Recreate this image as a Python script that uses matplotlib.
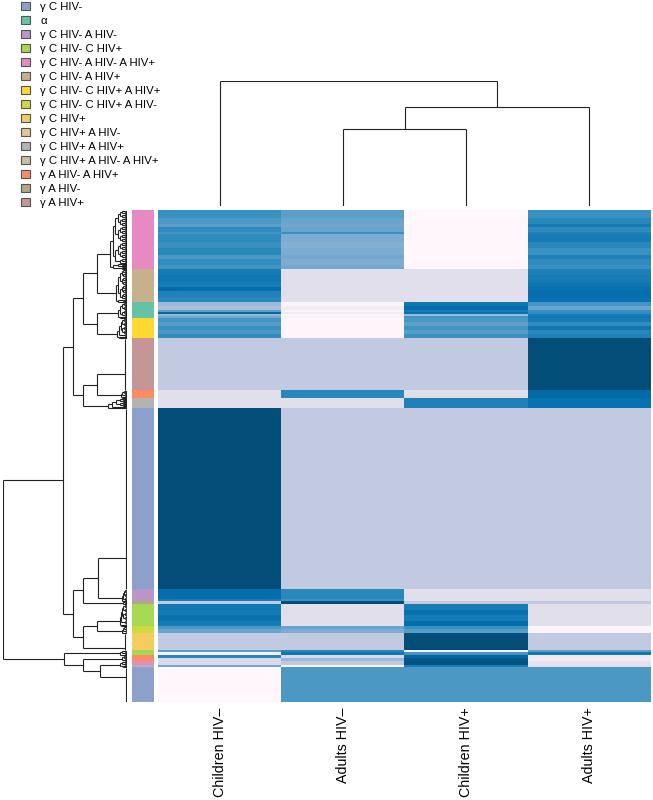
import numpy as np
import matplotlib
matplotlib.use("Agg")
import matplotlib.pyplot as plt
from matplotlib.collections import LineCollection
from matplotlib.patches import Patch

plt.rcParams['font.family'] = ['Liberation Sans', 'DejaVu Sans']

# ── column labels (left → right, in dendrogram order) ──────────────────────
columns = ["Children HIV\u2013", "Adults HIV\u2013", "Children HIV+", "Adults HIV+"]

# ── legend groups and their colours ────────────────────────────────────────
group_names = [
    "γ C HIV-", "α", "γ C HIV- A HIV-", "γ C HIV- C HIV+",
    "γ C HIV- A HIV- A HIV+", "γ C HIV- A HIV+", "γ C HIV- C HIV+ A HIV+",
    "γ C HIV- C HIV+ A HIV-", "γ C HIV+", "γ C HIV+ A HIV-",
    "γ C HIV+ A HIV+", "γ C HIV+ A HIV- A HIV+", "γ A HIV- A HIV+",
    "γ A HIV-", "γ A HIV+",
]
group_colors = [
    "#8DA0CB", "#66C2A5", "#BA95C7", "#A6D854",
    "#E78AC3", "#C6B18C", "#FFD92F",
    "#D2D841", "#F2CE61", "#E5C494",
    "#B3B3B3", "#CCBBA3", "#FC8D62",
    "#B1A884", "#C49696",
]

# ── heatmap rows, top → bottom ─────────────────────────────────────────────
# each stripe: (n_rows, Children HIV-, Adults HIV-, Children HIV+, Adults HIV+)
pink_rows = [(8, .62, .55, 0, .62), (6, .58, .52, 0, .66), (3, .55, .50, 0, .70),
             (5, .64, .52, 0, .64), (2, .60, .62, 0, .68), (8, .64, .48, 0, .70),
             (6, .62, .46, 0, .66), (7, .66, .48, 0, .62), (4, .58, .50, 0, .68),
             (6, .63, .47, 0, .64), (4, .60, .50, 0, .62)]
tan_rows = [(6, .70, .17, .17, .68), (7, .72, .17, .17, .70), (5, .70, .17, .17, .72),
            (4, .76, .17, .17, .74), (6, .68, .17, .17, .76), (5, .66, .17, .17, .74)]
teal_rows = [(4, .40, .03, .72, .60), (4, .36, .08, .76, .52), (2, .55, .02, .70, .62),
             (2, .78, .10, .74, .64), (2, .42, .02, .40, .70), (2, .50, .04, .60, .72)]
yellow_rows = [(4, .60, .01, .58, .70), (4, .56, .01, .54, .64), (4, .62, .01, .60, .72),
               (4, .58, .01, .56, .66), (4, .64, .01, .62, .68)]
rosy_rows = [(52, .29, .29, .29, .92)]
orange_rows = [(8, .17, .66, .17, .78)]
gray_rows = [(10, .17, .17, .68, .74)]
blue_rows = [(181, .92, .29, .29, .29)]
purple_rows = [(10, .76, .66, .17, .17), (2, .70, .62, .17, .17)]
khaki_rows = [(3, .29, .92, .29, .29)]
green_rows = [(6, .72, .17, .70, .17), (5, .70, .17, .74, .17), (6, .74, .17, .70, .17),
              (5, .70, .17, .76, .17)]
ygreen_rows = [(3, .58, .52, .62, .02), (4, .52, .48, .56, .02)]
lorange_rows = [(17, .29, .29, .92, .29)]
green2_rows = [(2, .55, .66, .02, .55), (3, .05, .72, .60, .72)]
orange2_rows = [(3, .66, .20, .80, .10), (3, .20, .40, .88, .10)]
pink2_rows = [(4, .20, .30, .90, .15)]
gray2_rows = [(2, .50, .02, .70, .17)]
botblue_rows = [(35, 0, .58, .58, .58)]

# band key -> (legend group, stripes, spread of its own sub-tree, anchor within band)
bands = {
    "pink": ("γ C HIV- A HIV- A HIV+", pink_rows, 0.14, 0.71),
    "tan": ("γ C HIV- A HIV+", tan_rows, 0.09, 0.72),
    "teal": ("α", teal_rows, 0.07, 0.75),
    "yellow": ("γ C HIV- C HIV+ A HIV+", yellow_rows, 0.08, 0.69),
    "rosy": ("γ A HIV+", rosy_rows, 0.015, 0.69),
    "orange": ("γ A HIV- A HIV+", orange_rows, 0.05, 0.6),
    "gray": ("γ C HIV+ A HIV+", gray_rows, 0.15, 0.75),
    "blue": ("γ C HIV-", blue_rows, 0.012, 0.83),
    "purple": ("γ C HIV- A HIV-", purple_rows, 0.04, 0.75),
    "khaki": ("γ A HIV-", khaki_rows, 0.03, 0.5),
    "green": ("γ C HIV- C HIV+", green_rows, 0.06, 0.73),
    "ygreen": ("γ C HIV- C HIV+ A HIV-", ygreen_rows, 0.04, 0.7),
    "lorange": ("γ C HIV+", lorange_rows, 0.02, 0.9),
    "green2": ("γ C HIV- C HIV+", green2_rows, 0.06, 0.5),
    "orange2": ("γ A HIV- A HIV+", orange2_rows, 0.04, 0.5),
    "pink2": ("γ C HIV- A HIV- A HIV+", pink2_rows, 0.04, 0.5),
    "gray2": ("γ C HIV+ A HIV+", gray2_rows, 0.03, 0.5),
    "botblue": ("γ C HIV-", botblue_rows, 0.01, 0.28),
}
band_order = ["pink", "tan", "teal", "yellow", "rosy", "orange", "gray", "blue",
              "purple", "khaki", "green", "ygreen", "lorange", "green2", "orange2",
              "pink2", "gray2", "botblue"]

# row dendrogram: (merge height, upper, lower); leaves are band keys
row_tree = (1.0,
            (0.514,
             (0.438,
              (0.357, (0.244, "pink", "tan"), (0.244, "teal", "yellow")),
              (0.352, (0.244, "rosy", "orange"), "gray")),
             (0.438,
              (0.357, (0.23, "blue", "purple"), "khaki"),
              (0.357, (0.244, "green", "ygreen"), "lorange"))),
            (0.506,
             "green2",
             (0.352, "orange2", (0.218, (0.06, "pink2", "gray2"), "botblue"))))

# column dendrogram (leaves are column indices)
col_tree = (1.0, 0, (0.788, (0.612, 1, 2), 3))

# ── build matrices ─────────────────────────────────────────────────────────
values, row_cols, band_span = [], [], {}
for key in band_order:
    group, stripes = bands[key][:2]
    start = len(values)
    for n, *v in stripes:
        values.extend([v] * n)
    band_span[key] = (start, len(values))
    row_cols.extend([matplotlib.colors.to_rgb(group_colors[group_names.index(group)])]
                    * (len(values) - start))
values = np.array(values, dtype=float)
row_cols = np.array(row_cols)[:, None, :]
n_rows = len(values)


def join(a, b, h, segs):
    (p1, h1), (p2, h2) = a, b
    segs += [[(h1, p1), (h, p1)], [(h, p1), (h, p2)], [(h2, p2), (h, p2)]]
    return (p1 + p2) / 2, h


def balanced(pos, top, segs):
    nodes = [(p, 0.0) for p in pos]
    levels = int(np.ceil(np.log2(max(len(nodes), 2))))
    lvl = 0
    while len(nodes) > 1:
        lvl += 1
        merged = [join(nodes[j], nodes[j + 1], top * lvl / levels, segs)
                  for j in range(0, len(nodes) - 1, 2)]
        if len(nodes) % 2:
            merged.append(nodes[-1])
        nodes = merged
    return nodes[0]


def band_leaf(key, segs):
    lo, hi = band_span[key]
    spread, anchor = bands[key][2:]
    pos = [i + 0.5 for i in range(lo, hi)]
    if spread < 0.025:
        # near-identical rows: a single thin line at the leaves
        segs.append([(spread, lo + 0.5), (spread, hi - 0.5)])
        return lo + anchor * (hi - lo), spread
    if len(pos) < 4 or abs(anchor - 0.5) < 0.05:
        return balanced(pos, spread, segs)
    k = int(round(np.clip((4 * anchor - 1) / 2, 0.1, 0.9) * len(pos)))
    return join(balanced(pos[:k], spread * 0.8, segs),
                balanced(pos[k:], spread * 0.8, segs), spread, segs)


def walk(node, leaf, segs):
    if not isinstance(node, tuple):
        return leaf(node, segs)
    h, upper, lower = node
    return join(walk(upper, leaf, segs), walk(lower, leaf, segs), h, segs)


W, H = 653, 800
fig = plt.figure(figsize=(W / 100, H / 100), dpi=100)


def px_axes(x0, y0, x1, y1):
    return fig.add_axes([x0 / W, 1 - y1 / H, (x1 - x0) / W, (y1 - y0) / H])


top, bottom = 210, 702
ax_hm = px_axes(158, top, 651, bottom)
ax_rc = px_axes(132, top, 154, bottom)
ax_rd = px_axes(3, top, 127, bottom)
ax_cd = px_axes(158, 80.7, 651, 206)

ax_hm.imshow(values, cmap="PuBu", vmin=0, vmax=1, aspect="auto",
             interpolation="nearest", extent=(0, 4, n_rows, 0))
ax_hm.set_xticks(np.arange(4) + 0.5)
ax_hm.set_xticklabels(columns, rotation=90, fontsize=10.3, va="top")
ax_hm.tick_params(axis="x", length=0, pad=4)
ax_hm.set_yticks([])
for s in ax_hm.spines.values():
    s.set_visible(False)

ax_rc.imshow(row_cols, aspect="auto", interpolation="nearest", extent=(0, 1, n_rows, 0))
ax_rc.axis("off")

# row dendrogram
segs = []
walk(row_tree, band_leaf, segs)
ax_rd.add_collection(LineCollection(segs, colors="#222222", linewidths=0.8))
ax_rd.set_xlim(1.0, 0)
ax_rd.set_ylim(n_rows, 0)
ax_rd.axis("off")

# column dendrogram
csegs = []
walk(col_tree, lambda c, s: (c + 0.5, 0.0), csegs)
csegs = [[(p, h) for h, p in seg] for seg in csegs]
ax_cd.add_collection(LineCollection(csegs, colors="#222222", linewidths=0.8))
ax_cd.set_xlim(0, 4)
ax_cd.set_ylim(0, 1.0)
ax_cd.axis("off")

handles = [Patch(facecolor=c, edgecolor="#555555", linewidth=0.8) for c in group_colors]
fig.legend(handles, group_names, loc="upper left", bbox_to_anchor=(21 / W, 1 - 1.5 / H),
           frameon=False, fontsize=8.2, handlelength=0.8, handleheight=0.75,
           handletextpad=0.9, labelspacing=0.34, borderpad=0, borderaxespad=0)

fig.savefig("out.png", dpi=100)
